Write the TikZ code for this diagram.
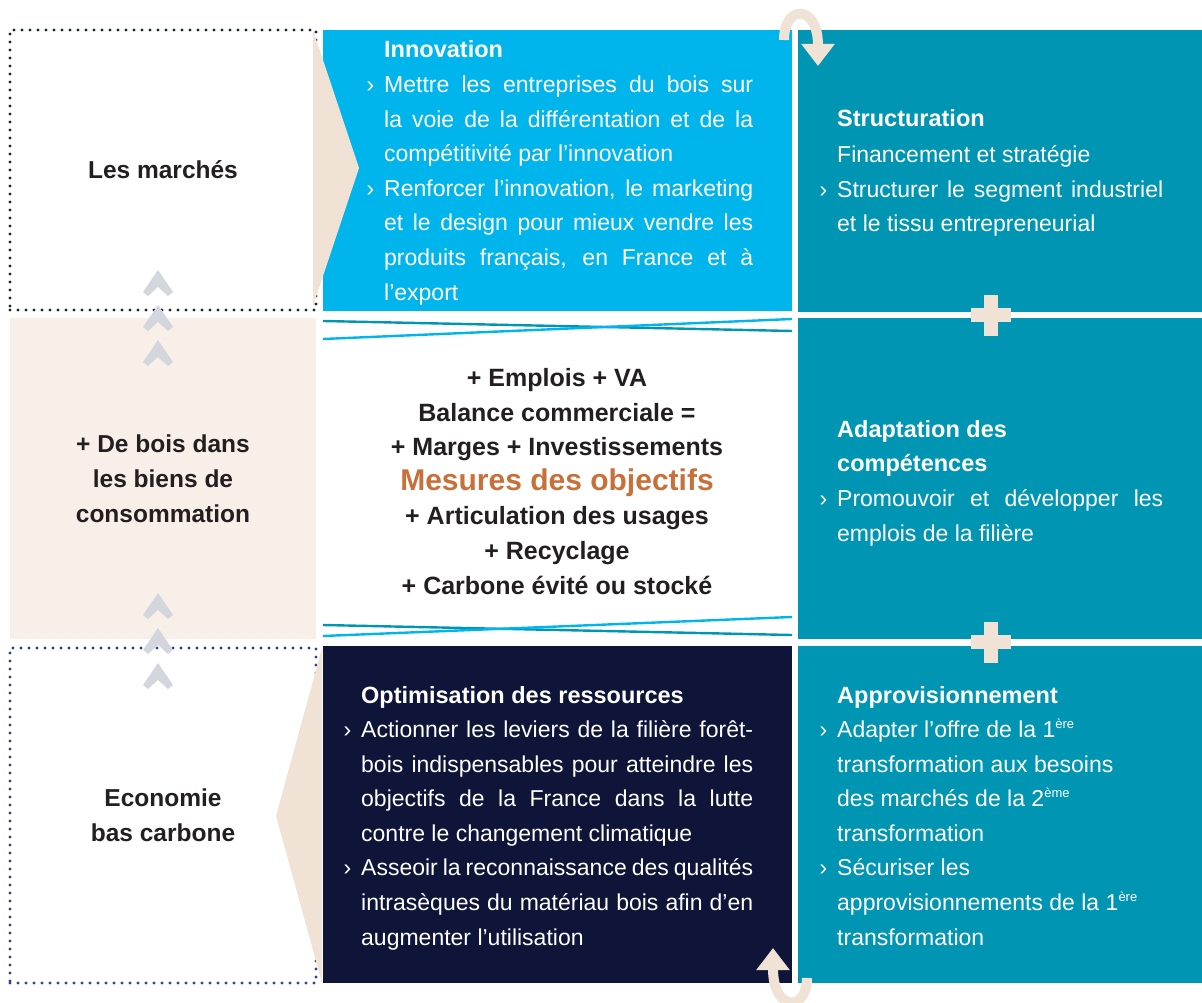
\documentclass[tikz,border=0pt]{standalone}
\usepackage{fontspec}
\setmainfont{Liberation Sans}
\usetikzlibrary{arrows.meta}

\definecolor{cyanbox}{HTML}{00B5EC}
\definecolor{tealbox}{HTML}{0096B3}
\definecolor{navybox}{HTML}{0E1538}
\definecolor{wedgecol}{HTML}{F1E2D6}
\definecolor{sand}{HTML}{F8EFE9}
\definecolor{chevcol}{HTML}{D4D6DD}
\definecolor{ink}{HTML}{231F20}
\definecolor{rust}{HTML}{C8703A}
\definecolor{dotnavy}{HTML}{1C2340}
\definecolor{dotblue}{HTML}{2C3E96}

\newcommand{\jl}[2]{\makebox[#1][s]{#2}}
\newcommand{\bul}{\llap{›\hspace{10pt}}}
\newcommand{\sups}[1]{\raisebox{9pt}{\fontsize{13}{13}\selectfont #1}}
\newcommand{\chevron}[2]{\fill[chevcol] (#1,#2) -- ++(15,22) -- ++(-5,4) -- ++(-10,-9) -- ++(-10,9) -- ++(-5,-4) -- cycle;}

\tikzset{
  box/.style={inner sep=0pt, outer sep=0pt, anchor=north west},
  side/.style={align=center, text=ink, font=\bfseries\fontsize{24.5}{35}\selectfont},
  head/.style={inner sep=0pt, anchor=base west, text=white, font=\bfseries\fontsize{23.5}{34}\selectfont},
  body/.style={inner sep=0pt, anchor=base west, align=left, text=white, font=\fontsize{23}{34.6}\selectfont},
  dotline/.style={line width=3.4pt, line cap=round, dash pattern=on 0pt off 8pt},
  crossline/.style={line width=2.4pt},
  uturn/.style={draw=wedgecol, line width=10pt, -{Triangle[width=32pt,length=22pt]}},
}

\begin{document}
\begin{tikzpicture}[x=1pt,y=-1pt]
    \useasboundingbox (0,0) rectangle (1202,1003);
    %% Left column
    \node[box, draw=dotnavy, dotline, side, minimum width=306pt, minimum height=280pt] (marches) at (10,30) {Les marchés};
    \node[box, fill=sand, side, minimum width=306pt, minimum height=321pt] (biens) at (10,318) {+ De bois dans\\les biens de\\consommation};
    \node[box, draw=dotblue, dotline, side, minimum width=306pt, minimum height=335pt] (carbone) at (10,648) {Economie\\bas carbone};
    \foreach \y in {270,305,340} {\chevron{158}{\y}}
    \foreach \y in {593,628,663} {\chevron{158}{\y}}
    %% Middle column
    \node[box, fill=cyanbox, minimum width=469pt, minimum height=281pt] (innov) at (323,30) {};
    \node[box, minimum width=469pt, minimum height=321pt] (mesures) at (323,318) {};
    \node[box, fill=navybox, minimum width=469pt, minimum height=337pt] (optim) at (323,646) {};
    \fill[wedgecol] (313,30) -- (359,168) -- (313,306) -- cycle;
    \fill[wedgecol] (322,648) -- (276,816) -- (322,983) -- cycle;
    \draw[crossline, tealbox] (323,321) -- (792,331);
    \draw[crossline, cyanbox] (323,339) -- (792,319);
    \draw[crossline, tealbox] (323,625) -- (792,635);
    \draw[crossline, cyanbox] (323,636) -- (792,617);
    %% Right column
    \node[box, fill=tealbox, minimum width=404pt, minimum height=282pt] (struct) at (798,30) {};
    \node[box, fill=tealbox, minimum width=404pt, minimum height=321pt] (adapt) at (798,318) {};
    \node[box, fill=tealbox, minimum width=404pt, minimum height=337pt] (appro) at (798,646) {};
    \foreach \y in {315,642} {
        \fill[wedgecol] (971,\y-7) rectangle (1011,\y+7);
        \fill[wedgecol] (984,\y-20) rectangle (998,\y+21);
    }
    %% U-turn arrows
    \coordinate (innovtop) at (784,40);
    \coordinate (structtop) at (818,66);
    \coordinate (approbot) at (807,978);
    \coordinate (optimbot) at (773,948);
    \draw[uturn] (innovtop) .. controls (784,4) and (818,4) .. (structtop);
    \draw[uturn] (approbot) .. controls (807,1012) and (773,1012) .. (optimbot);
    %% Innovation
    \node[head] (innovhd) at (384,58) {Innovation};
    \node[body] (innovtx) at (384,300) {\bul\jl{369pt}{Mettre les entreprises du bois sur}\\
        \jl{369pt}{la voie de la différentation et de la}\\
        compétitivité par l’innovation\\
        \bul\jl{369pt}{Renforcer l’innovation, le marketing}\\
        \jl{369pt}{et le design pour mieux vendre les}\\
        \jl{369pt}{produits français, en France et à}\\
        l’export};
    %% Mesures des objectifs
    \node[anchor=base, align=center, text=ink, font=\bfseries\fontsize{25}{34.6}\selectfont] (mesurestx) at (557,594)
        {+ Emplois + VA\\Balance commerciale =\\+ Marges + Investissements\\
        {\color{rust}\fontsize{30}{34.6}\selectfont Mesures des objectifs}\\
        + Articulation des usages\\+ Recyclage\\+ Carbone évité ou stocké};
    %% Optimisation des ressources
    \node[head] (optimhd) at (361,703) {Optimisation des ressources};
    \node[body] (optimtx) at (361,945) {\bul\jl{392pt}{Actionner les leviers de la filière forêt-}\\
        \jl{392pt}{bois indispensables pour atteindre les}\\
        \jl{392pt}{objectifs de la France dans la lutte}\\
        contre le changement climatique\\
        \bul\jl{392pt}{Asseoir la reconnaissance des qualités}\\
        \jl{392pt}{intrasèques du matériau bois afin d’en}\\
        augmenter l’utilisation};
    %% Structuration
    \node[head] (structhd) at (837,127) {Structuration};
    \node[body] (structtx) at (837,232) {Financement et stratégie\\
        \bul\jl{326pt}{Structurer le segment industriel}\\
        et le tissu entrepreneurial};
    %% Adaptation des competences
    \node[head, align=left] (adapthd) at (837,471) {Adaptation des\\compétences};
    \node[body] (adapttx) at (837,541) {\bul\jl{326pt}{Promouvoir et développer les}\\
        emplois de la filière};
    %% Approvisionnement
    \node[head] (approhd) at (837,703) {Approvisionnement};
    \node[body] (approtx) at (837,945) {\bul Adapter l’offre de la 1\sups{ère}\\
        transformation aux besoins\\
        des marchés de la 2\sups{ème}\\
        transformation\\
        \bul Sécuriser les\\
        approvisionnements de la 1\sups{ère}\\
        transformation};
\end{tikzpicture}
\end{document}
